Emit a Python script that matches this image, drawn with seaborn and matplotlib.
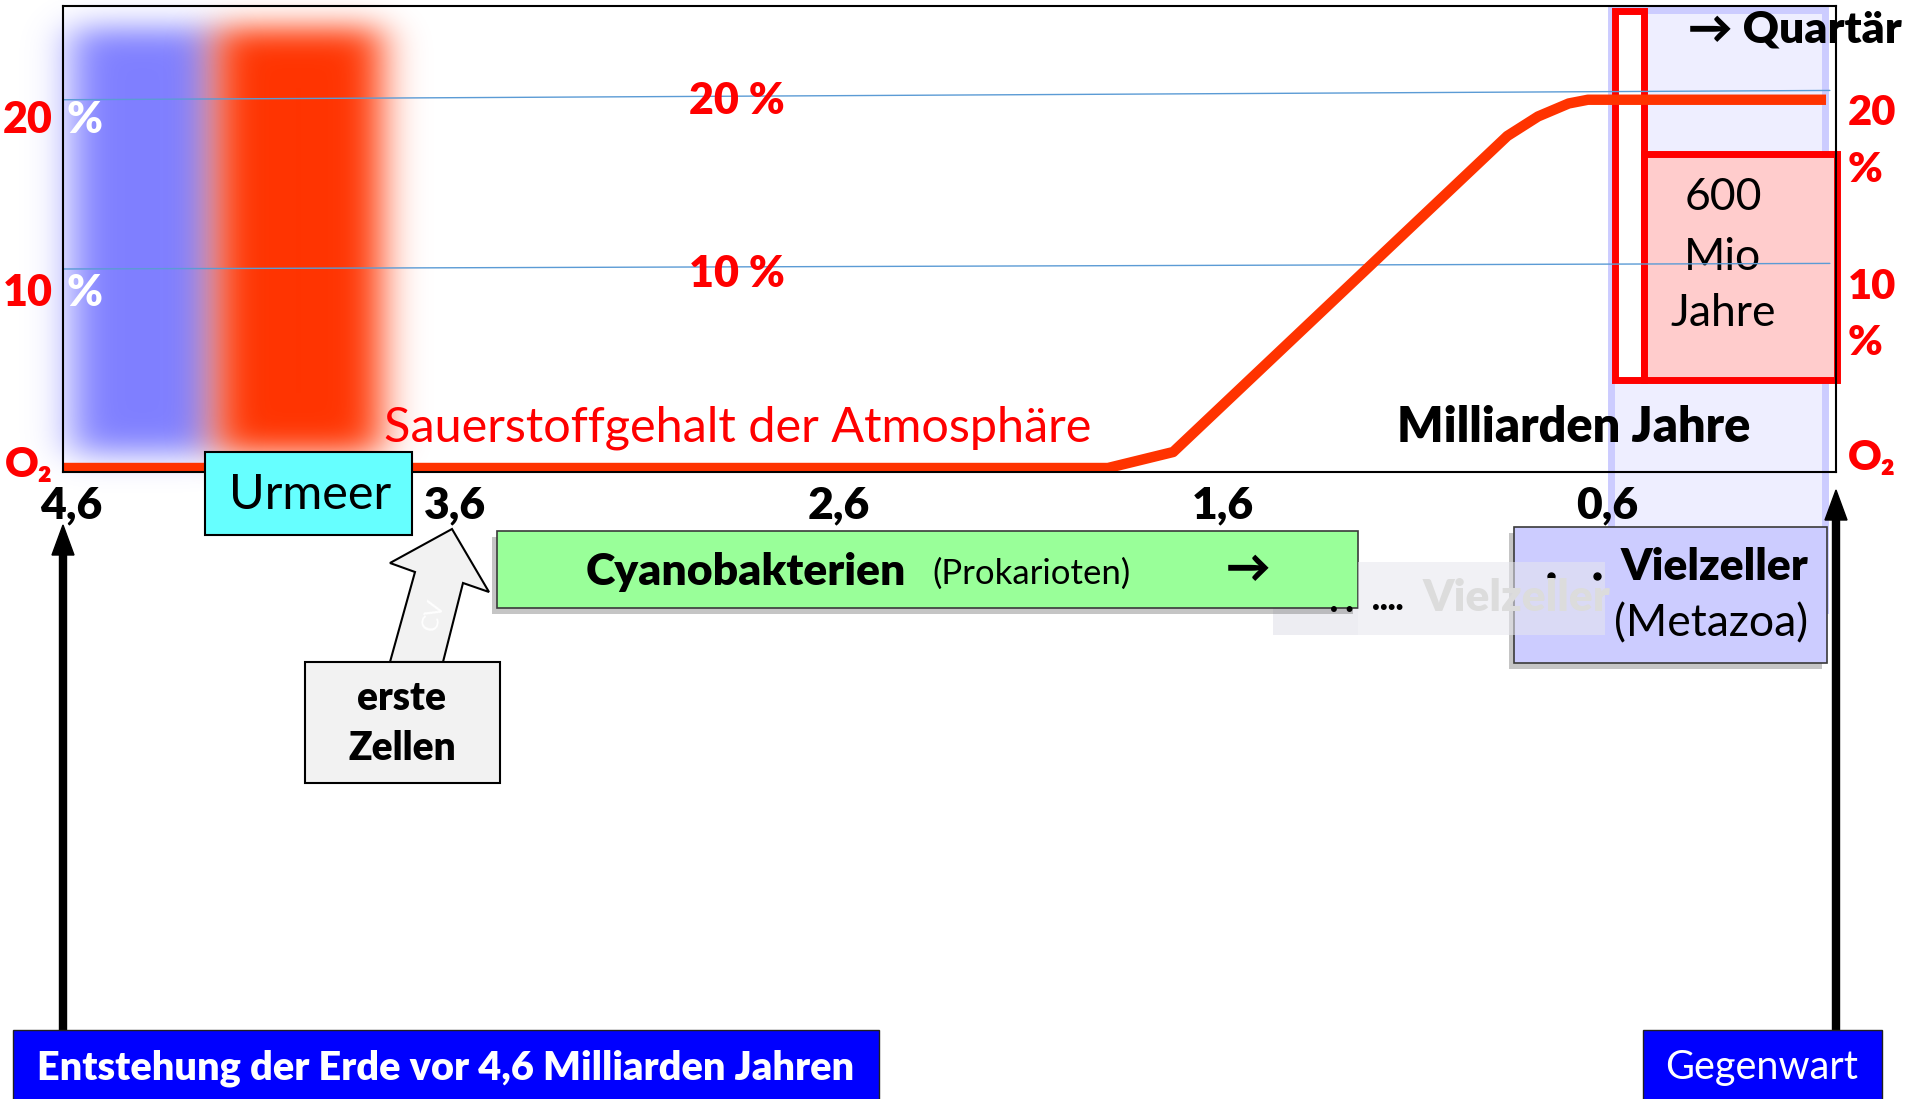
import numpy as np
import matplotlib
matplotlib.use("Agg")
import matplotlib.pyplot as plt
from matplotlib.patches import Rectangle, Polygon, FancyArrow
import seaborn as sns

# Sauerstoffgehalt der Atmosphaere (%) gegen Milliarden Jahre vor heute
ga_points = [4.62, 1.90, 1.73, 0.86, 0.78, 0.70, 0.65, 0.03]
o2_points = [0.0, 0.0, 0.86, 17.85, 18.9, 19.6, 19.8, 19.8]

x_ticks = [4.6, 3.6, 2.6, 1.6, 0.6]
x_tick_labels = ["4,6", "3,6", "2,6", "1,6", "0,6"]

# Hilfslinien 10 % / 20 % (im Original leicht schraeg)
grid_x = [4.62, 0.02]
grid_10 = [10.7, 11.0]
grid_20 = [19.8, 20.3]

W, H = 1907, 1099
RED = "#FF0000"
CURVE = "#FF3300"
FONT = ["Lato", "DejaVu Sans"]

sns.set_theme(style="white")
plt.rcParams["font.family"] = FONT

fig = plt.figure(figsize=(W / 100, H / 100), dpi=100)


def px_axes(z):
    a = fig.add_axes([0, 0, 1, 1], zorder=z)
    a.axis("off")
    return a


bg = px_axes(0)
ax = fig.add_axes([63 / W, 1 - 472 / H, (1836 - 63) / W, (472 - 6) / H], zorder=1)
fg = px_axes(2)


def txt(a, x, y, s, size, color="black", weight="normal", ha="center", va="center", **kw):
    a.text(x, y, s, fontsize=size, color=color, fontweight=weight, ha=ha, va=va,
           family=FONT, **kw)


# --- unscharfe Farbbalken links (Urmeer / Ur-Erde)
def soft(n, lo, hi, s):
    i = np.arange(n)
    box = ((i >= lo) & (i <= hi)).astype(float)
    k = np.exp(-0.5 * (np.arange(-4 * s, 4 * s + 1) / s) ** 2)
    return np.convolve(box, k / k.sum(), mode="same")


ny, nx = 520, 520
vy = soft(ny, 28, 452, 15)
for lo, hi, col in [(72, 212, (0.5, 0.5, 1.0)), (216, 380, (1.0, 0.2, 0.0))]:
    img = np.zeros((ny, nx, 4))
    img[..., :3] = col
    img[..., 3] = np.outer(vy, soft(nx, lo, hi, 20))
    bg.imshow(img, extent=(0, nx, ny, 0), interpolation="bilinear", aspect="auto")

# lavendelfarbener Streifen rechts + rote Rahmen
bg.add_patch(Rectangle((1611, 10), 214, 600, fc="#EEEEFF", ec="#CCCCFF", lw=5))
bg.add_patch(Rectangle((1615, 11), 29, 369, fc="white", ec=RED, lw=5))
bg.add_patch(Rectangle((1644, 154), 193, 226, fc="#FFCCCC", ec=RED, lw=5))
txt(bg, 1723, 198, "600", 32)
txt(bg, 1723, 257, "Mio", 32)
txt(bg, 1723, 313, "Jahre", 32)
bg.set_xlim(0, W)
bg.set_ylim(H, 0)

# --- Hauptdiagramm
ax.set_facecolor("none")
ax.plot(grid_x, grid_20, color="#5B9BD5", lw=1)
ax.plot(grid_x, grid_10, color="#5B9BD5", lw=1)
sns.lineplot(x=ga_points, y=o2_points, ax=ax, color=CURVE, lw=7.5,
             solid_capstyle="butt")
ax.set_xlim(4.621, 0.004)
ax.set_ylim(-0.215, 24.84)
ax.set_xticks(x_ticks)
ax.set_xticklabels(x_tick_labels, fontsize=32, fontweight="heavy", color="black")
ax.set_yticks([])
ax.tick_params(axis="x", length=0, pad=10)
for sp in ax.spines.values():
    sp.set_visible(True)
    sp.set_color("black")
    sp.set_linewidth(1.5)

# --- Beschriftungen
for y, lab in [(120, "20"), (293, "10")]:
    txt(fg, 53, y, lab, 31, RED, "heavy", ha="right")
    txt(fg, 66, y, "%", 31, "white", "heavy", ha="left")
txt(fg, 5, 465, "O₂", 30, RED, "heavy", ha="left")

txt(fg, 737, 101, "20 %", 31, RED, "heavy")
txt(fg, 737, 274, "10 %", 31, RED, "heavy")

for y, lab in [(113, "20"), (170, "%"), (287, "10"), (343, "%"), (458, "O₂")]:
    txt(fg, 1848, y, lab, 30, RED, "heavy", ha="left")

txt(fg, 1688, 30, "→ Quartär", 32, weight="heavy", ha="left")
txt(fg, 738, 428, "Sauerstoffgehalt der Atmosphäre", 35, RED)
txt(fg, 1574, 428, "Milliarden Jahre", 35, weight="heavy")

# Urmeer
fg.add_patch(Rectangle((205, 452), 207, 83, fc="#66FFFF", ec="black", lw=1.5))
txt(fg, 310, 495, "Urmeer", 35)

# Cyanobakterien
fg.add_patch(Rectangle((492, 537), 861, 77, fc="#808080", alpha=0.45, lw=0))
fg.add_patch(Rectangle((497, 531), 861, 77, fc="#99FF99", ec="#3A3A3A", lw=1.2))
txt(fg, 586, 572, "Cyanobakterien", 32, weight="heavy", ha="left")
txt(fg, 932, 574, "(Prokarioten)", 25, ha="left")
txt(fg, 1248, 569, "→", 32, weight="heavy")

# Vielzeller
fg.add_patch(Rectangle((1509, 533), 313, 136, fc="#808080", alpha=0.45, lw=0))
fg.add_patch(Rectangle((1514, 527), 313, 136, fc="#CCCCFF", ec="#3A3A3A", lw=1.2))
fg.plot([1551, 1597], [576, 576], ls="none", marker="o", ms=5, color="black")
txt(fg, 1808, 567, "Vielzeller", 32, weight="heavy", ha="right")
txt(fg, 1808, 624, "(Metazoa)", 32, ha="right")

# verblasster Kasten "....Vielzeller" (halbtransparent ueber dem Vielzeller-Kasten)
fg.add_patch(Rectangle((1358, 562), 247, 73, fc="#E6E6EE", alpha=0.55, lw=0))
fg.add_patch(Rectangle((1273, 562), 85, 73, fc="#EDEDF2", lw=0, zorder=0.5))
txt(fg, 1330, 602, ". .", 24, weight="heavy", ha="left")
txt(fg, 1372, 600, "....", 24, weight="heavy", ha="left")
txt(fg, 1423, 598, "Vielzeller", 32, "#DCDCDC", "heavy", ha="left")

# erste Zellen + Blockpfeil
fg.add_patch(Polygon([(390, 662), (415, 572), (390, 563), (452, 529), (489, 592),
                      (463, 583), (443, 662)], closed=True, fc="#F2F2F2", ec="black", lw=1.5))
txt(fg, 434, 615, "CV", 17, "white", rotation=75)
fg.add_patch(Rectangle((305, 662), 195, 121, fc="#F2F2F2", ec="black", lw=1.5))
txt(fg, 402, 699, "erste", 28, weight="heavy")
txt(fg, 402, 749, "Zellen", 28, weight="heavy")

# Pfeile und Kaesten unten
fg.add_patch(FancyArrow(63, 1032, 0, 525 - 1032, width=7, head_width=22, head_length=30,
                        length_includes_head=True, color="black"))
fg.add_patch(FancyArrow(1836, 1032, 0, 490 - 1032, width=7, head_width=22, head_length=30,
                        length_includes_head=True, color="black"))
fg.add_patch(Rectangle((13, 1030), 866, 80, fc="#0000FF", ec="#202020", lw=1))
txt(fg, 446, 1068, "Entstehung der Erde vor 4,6 Milliarden Jahren", 28.5, "white", "heavy")
fg.add_patch(Rectangle((1643, 1030), 239, 80, fc="#0000FF", ec="#202020", lw=1))
txt(fg, 1762, 1068, "Gegenwart", 28.5, "white")

fg.set_xlim(0, W)
fg.set_ylim(H, 0)

fig.savefig("out.png", dpi=100)
